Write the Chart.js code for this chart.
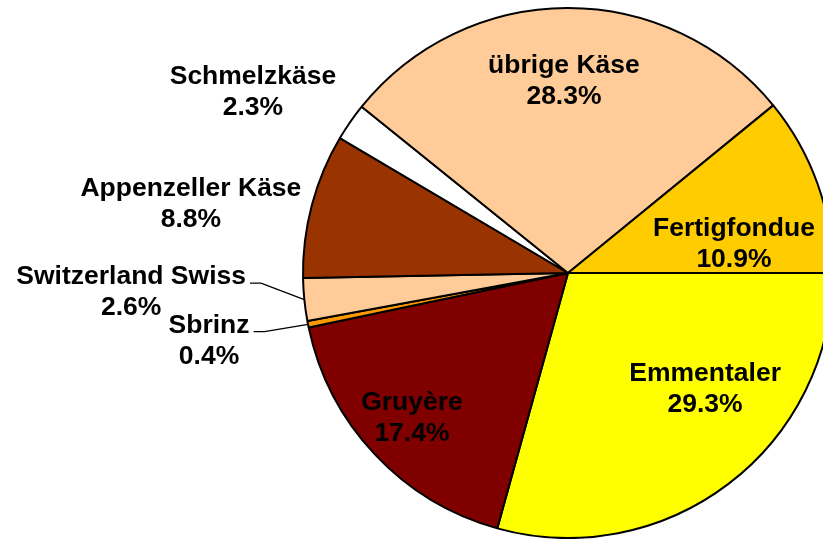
<!DOCTYPE html>
<html>
<head>
<meta charset="utf-8">
<script src="https://cdn.jsdelivr.net/npm/chart.js@4/dist/chart.umd.min.js"></script>
<style>
  html, body { margin: 0; padding: 0; background: #fff; }
  #wrap { width: 823px; height: 539px; overflow: hidden; position: relative; }
  #kaese { position: absolute; left: 0; top: 0; }
</style>
</head>
<body>
<div id="wrap">
  <canvas id="kaese" width="1136" height="539"></canvas>
</div>
<script>
// Käsesorten, im Uhrzeigersinn ab 3 Uhr
const sorten = ['Emmentaler', 'Gruyère', 'Sbrinz', 'Switzerland Swiss',
                'Appenzeller Käse', 'Schmelzkäse', 'übrige Käse', 'Fertigfondue'];
const anteile = [29.3, 17.4, 0.4, 2.6, 8.8, 2.3, 28.3, 10.9];
const farben = ['#FFFF00', '#800000', '#FF9900', '#FFCC99',
                '#993300', '#FFFFFF', '#FFCC99', '#FFCC00'];

// Lage der Beschriftungen: Winkel (Grad, ab 3 Uhr) und Abstand relativ zum Radius
const beschriftung = [
    { a: 40.5, r: 0.673 },
    { a: 137.5, r: 0.812 },
    { a: 169.4, r: 1.391, linie: true },
    { a: 177.5, r: 1.664, linie: true },
    { a: 190.4, r: 1.46 },
    { a: 209.8, r: 1.384 },
    { a: 268.2, r: 0.728 },
    { a: 349.8, r: 0.631 }
];

const labelPlugin = {
    id: 'kaeseLabels',
    afterDatasetsDraw(chart) {
        const ctx = chart.ctx;
        const meta = chart.getDatasetMeta(0);
        ctx.save();
        ctx.font = 'bold 26.5px "Liberation Sans", Arial, sans-serif';
        ctx.fillStyle = '#000';
        ctx.textAlign = 'center';
        ctx.textBaseline = 'middle';
        meta.data.forEach((arc, i) => {
            const pos = beschriftung[i];
            const rad = pos.a * Math.PI / 180;
            const x = arc.x + 2 + Math.cos(rad) * pos.r * 264;
            const y = arc.y + Math.sin(rad) * pos.r * 264;
            const zeile1 = sorten[i];
            const zeile2 = anteile[i].toFixed(1) + '%';
            ctx.fillText(zeile1, x, y - 15);
            ctx.fillText(zeile2, x, y + 16);

            // Führungslinie für die schmalen Stücke
            if (pos.linie) {
                const w = ctx.measureText(zeile1).width;
                const sx = x + w / 2 + 4;
                const sy = y - 15 + 6;
                const mid = (arc.startAngle + arc.endAngle) / 2;
                const ex = arc.x + Math.cos(mid) * arc.outerRadius;
                const ey = arc.y + Math.sin(mid) * arc.outerRadius;
                ctx.beginPath();
                ctx.lineWidth = 1.3;
                ctx.strokeStyle = '#000';
                ctx.moveTo(sx, sy);
                ctx.lineTo(sx + 11, sy);
                ctx.lineTo(ex, ey);
                ctx.stroke();
            }
        });
        ctx.restore();
    }
};

const ctx = document.getElementById('kaese').getContext('2d');
new Chart(ctx, {
    type: 'pie',
    data: {
        labels: sorten,
        datasets: [{
            data: anteile,
            backgroundColor: farben,
            borderColor: '#000',
            borderWidth: 2,
            radius: 265
        }]
    },
    options: {
        responsive: false,
        animation: false,
        rotation: 90,
        layout: { padding: { top: 8, bottom: 1, left: 0, right: 0 } },
        plugins: {
            legend: { display: false },
            tooltip: { enabled: false }
        }
    },
    plugins: [labelPlugin]
});
</script>
</body>
</html>
